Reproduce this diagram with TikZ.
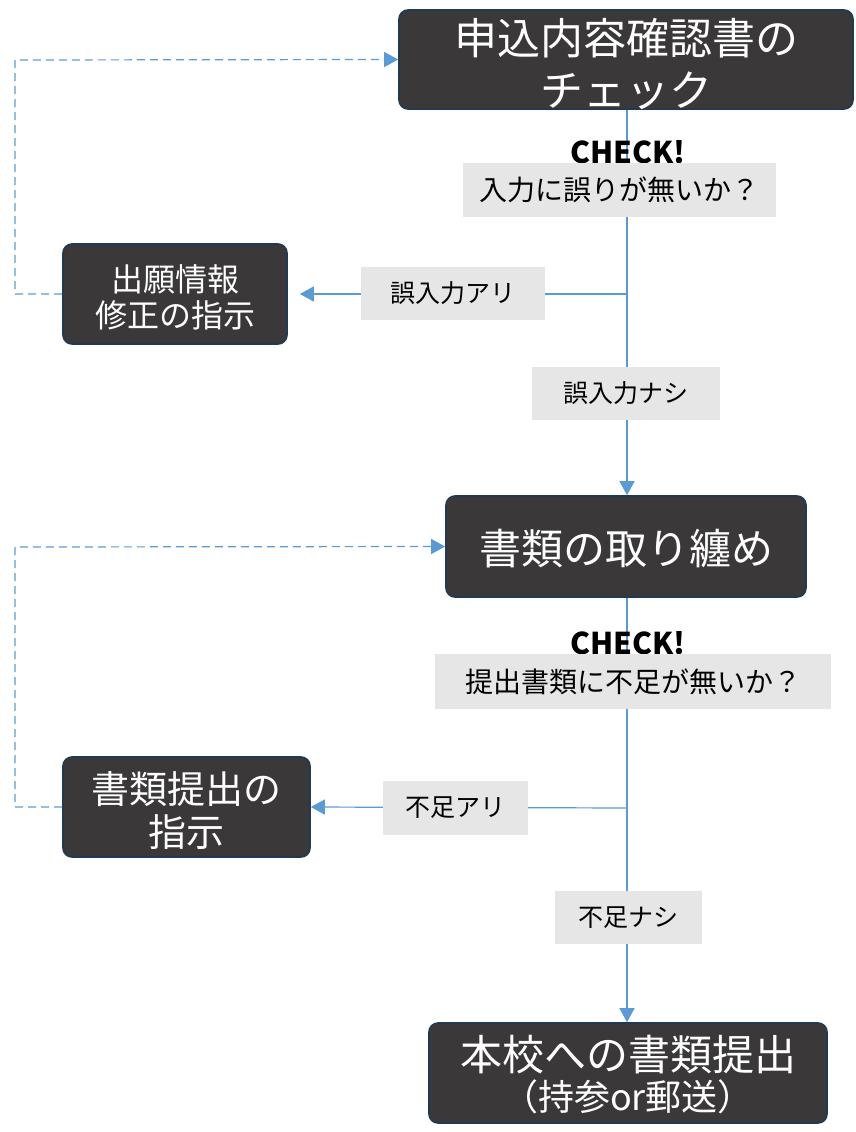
\documentclass[tikz,border=0pt]{standalone}
\usepackage{fontspec}
\setmainfont{Noto Sans CJK JP}
\usetikzlibrary{arrows.meta}
\definecolor{boxfill}{HTML}{3A3838}
\definecolor{boxline}{HTML}{203A55}
\definecolor{conn}{HTML}{5B9BD5}
\definecolor{lblfill}{HTML}{E6E6E6}
\newcommand\lowr[2]{\raisebox{-#1}[\height][\depth]{#2}}
\begin{document}
\begin{tikzpicture}[x=1pt,y=-1pt,
  darkbox/.style={draw=boxline,line width=1.6pt,fill=boxfill,rounded corners=9pt,text=white,align=center,inner sep=0pt},
  lbl/.style={fill=lblfill,inner sep=0pt,text=black,align=center},
  chk/.style={font=\bfseries\fontsize{30}{32}\selectfont,inner sep=0pt},
  conline/.style={draw=conn,line width=1.2pt},
  arr/.style={-{Triangle[length=14pt,width=15pt]}},
  dashline/.style={draw=conn,line width=1.2pt,dash pattern=on 8pt off 5pt}]
\useasboundingbox (0,0) rectangle (855,1132);
% boxes
\node[darkbox,minimum width=454pt,minimum height=99pt,font=\fontsize{43}{51.5}\selectfont] (A) at (626,59.5) {\lowr{4.5pt}{申込内容確認書の}\\\lowr{4.5pt}{チェック}};
\node[darkbox,minimum width=224pt,minimum height=100pt,font=\fontsize{32}{36}\selectfont] (C) at (175,294) {\lowr{3pt}{出願情報}\\\lowr{3pt}{修正の指示}};
\node[darkbox,minimum width=360pt,minimum height=101pt,font=\fontsize{42}{48}\selectfont] (B) at (626,546.5) {\lowr{2pt}{書類の取り纏め}};
\node[darkbox,minimum width=247pt,minimum height=100pt,font=\fontsize{38}{43}\selectfont] (D) at (186.5,807) {\lowr{4pt}{書類提出の}\\\lowr{4pt}{指示}};
\node[darkbox,minimum width=398pt,minimum height=100pt] (E) at (628,1073) {\lowr{1.5pt}{\fontsize{42}{44}\selectfont 本校への書類提出}\\[5pt]\lowr{1.5pt}{\fontsize{36}{40}\selectfont （持参or郵送）}};
% connectors
\coordinate (b1) at (627,294);
\coordinate (b2) at (627,808);
\draw[conline,arr] (A.south -| b1) -- (B.north -| b1);
\draw[conline,arr] (B.south -| b2) -- (E.north -| b2);
\draw[conline,arr,shorten >=12pt] (b1) -- (C.east);
\draw[conline,arr] (b2) -- (D.east);
\coordinate (d1) at (15,294);
\coordinate (d2) at (15,60);
\coordinate (d3) at (15,807);
\coordinate (d4) at (15,547);
\draw[dashline,arr] (C.west) -- (d1) -- (d2) -- (A.west);
\draw[dashline,arr] (D.west) -- (d3) -- (d4) -- (B.west);
% labels
\node[chk] (c1) at (628,152) {CHECK!};
\node[lbl,minimum width=313pt,minimum height=54pt,font=\fontsize{28}{30}\selectfont] (q1) at (619.5,190) {入力に誤りが無いか？};
\node[lbl,minimum width=184pt,minimum height=53pt,font=\fontsize{25}{28}\selectfont] (l1) at (453,293.5) {誤入力アリ};
\node[lbl,minimum width=188pt,minimum height=53pt,font=\fontsize{25}{28}\selectfont] (l2) at (626,393.5) {誤入力ナシ};
\node[chk] (c2) at (628,643) {CHECK!};
\node[lbl,minimum width=396pt,minimum height=55pt,font=\fontsize{28}{30}\selectfont] (q2) at (633,681.5) {提出書類に不足が無いか？};
\node[lbl,minimum width=145pt,minimum height=54pt,font=\fontsize{25}{28}\selectfont] (l3) at (455.5,808) {不足アリ};
\node[lbl,minimum width=147pt,minimum height=53pt,font=\fontsize{25}{28}\selectfont] (l4) at (628.5,917.5) {不足ナシ};
\end{tikzpicture}
\end{document}
